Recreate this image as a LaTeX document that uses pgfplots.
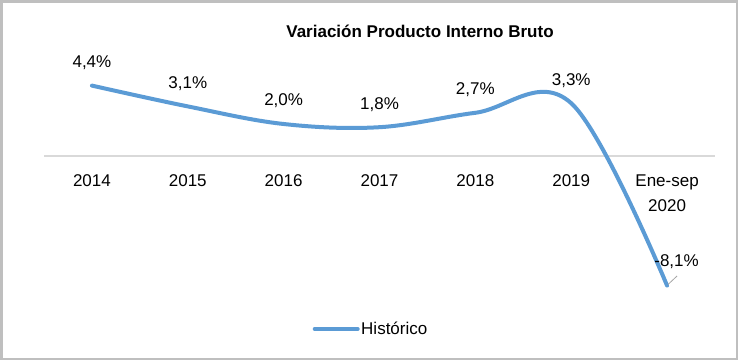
\documentclass[border=0pt]{standalone}
\usepackage{pgfplots}
\pgfplotsset{compat=1.18}
\usepackage{fontspec}
\setmainfont{Liberation Sans}
\definecolor{lineblue}{HTML}{5B9BD5}
\definecolor{zerogray}{HTML}{D9D9D9}
\definecolor{framegray}{HTML}{BFBFBF}
\newcommand{\fs}{\fontsize{17}{25}\selectfont}
\begin{document}
\begin{tikzpicture}[x=1pt,y=1pt]
\useasboundingbox (0,0) rectangle (738,360);
\draw[framegray, line width=2.5pt] (1.25,1.25) rectangle (736.75,358.75);
\node[anchor=base, font=\fs\bfseries, inner sep=0pt] at (420,322.3) {Variación Producto Interno Bruto};
\begin{axis}[
  at={(44pt,60pt)}, anchor=south west,
  scale only axis, width=671pt, height=256pt,
  xmin=-0.5, xmax=6.5, ymin=-9, ymax=7,
  axis x line=middle, axis y line=none,
  x axis line style={-, zerogray, line width=1.5pt},
  xtick=data,
  xticklabels={2014,2015,2016,2017,2018,2019,{Ene-sep\\2020}},
  xtick style={draw=none},
  xticklabel style={align=center, anchor=north, inner sep=0pt, yshift=-16pt, font=\fs},
  clip=false,
  legend style={at={(0.487,-0.113)}, anchor=center, draw=none, fill=none, font=\fs,
    inner sep=0pt, nodes={inner sep=1.5pt}},
  legend image code/.code={\draw[#1, line cap=round] (0pt,0pt) -- (43pt,0pt);},
]
\addplot[lineblue, line width=4pt, smooth, tension=0.6, line cap=round] table {
x y
0 4.4
1 3.1
2 2.0
3 1.8
4 2.7
5 3.3
6 -8.1
};
\addlegendentry{Histórico}
\addplot[draw=none, forget plot, nodes near coords, point meta=explicit symbolic,
  nodes near coords align={center},
  every node near coord/.append style={anchor=center, yshift=23pt, font=\fs, inner sep=0pt}]
  table[meta=lab] {
x y lab
0 4.4 4,4\%
1 3.1 3,1\%
2 2.0 2,0\%
3 1.8 1,8\%
4 2.7 2,7\%
5 3.3 3,3\%
};
\draw[gray!70, line width=0.8pt] (axis cs:6.01,-8.03) -- (axis cs:6.104,-7.5);
\node[font=\fs, inner sep=0pt, anchor=center] at (axis cs:6.099,-6.59) {-8,1\%};
\end{axis}
\end{tikzpicture}
\end{document}
